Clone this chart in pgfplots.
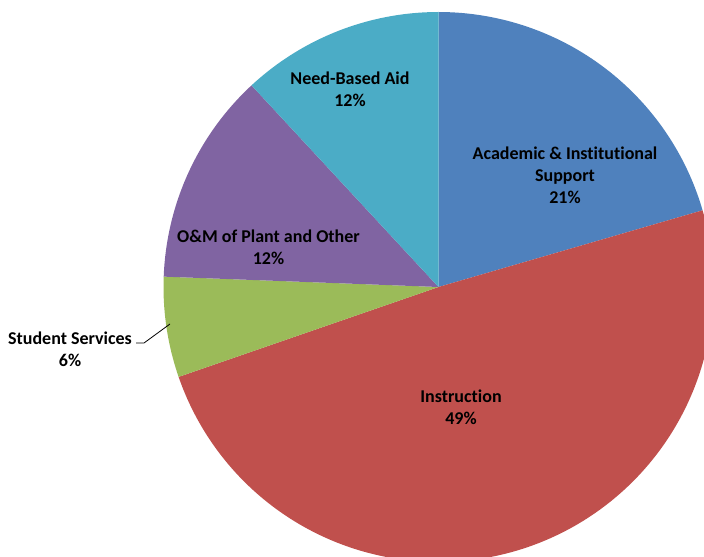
\documentclass[border=0pt]{standalone}
\usepackage{pgfplots}
\pgfplotsset{compat=1.18}
\usepackage{fontspec}
\setmainfont[Ligatures=NoCommon]{Carlito}
\definecolor{cacad}{HTML}{4F81BD}
\definecolor{cinstr}{HTML}{C0504D}
\definecolor{cstud}{HTML}{9BBB59}
\definecolor{com}{HTML}{8064A2}
\definecolor{cneed}{HTML}{4BACC6}
\tikzset{lbl/.style={font=\fontsize{13.5}{16.5}\selectfont\bfseries, align=center, inner sep=0pt, text=black}}
% shares (%) : Academic 20.5, Instruction 49.2, Student Services 5.9, O&M 12.5, Need-Based Aid 11.9
% slices start at 90 deg and run clockwise, 3.6 deg per percent
\begin{document}
\begin{tikzpicture}
\begin{axis}[
  at={(0,0)}, anchor=south west,
  width=528pt, height=417.75pt, scale only axis,
  xmin=0, xmax=704, ymin=0, ymax=557,
  hide axis, clip=true,
]
% Academic & Institutional Support 20.5%
\addplot[fill=cacad, draw=none, domain=16.2:90, samples=90, variable=\t]
  ({438.5+275*cos(t)},{270+275*sin(t)}) -- (axis cs:438.5,270) -- cycle;
% Instruction 49.2%
\addplot[fill=cinstr, draw=none, domain=-160.92:16.2, samples=180, variable=\t]
  ({438.5+275*cos(t)},{270+275*sin(t)}) -- (axis cs:438.5,270) -- cycle;
% Student Services 5.9%
\addplot[fill=cstud, draw=none, domain=-182.16:-160.92, samples=30, variable=\t]
  ({438.5+275*cos(t)},{270+275*sin(t)}) -- (axis cs:438.5,270) -- cycle;
% O&M of Plant and Other 12.5%
\addplot[fill=com, draw=none, domain=-227.16:-182.16, samples=50, variable=\t]
  ({438.5+275*cos(t)},{270+275*sin(t)}) -- (axis cs:438.5,270) -- cycle;
% Need-Based Aid 11.9%
\addplot[fill=cneed, draw=none, domain=-270:-227.16, samples=50, variable=\t]
  ({438.5+275*cos(t)},{270+275*sin(t)}) -- (axis cs:438.5,270) -- cycle;

\node[lbl] at (axis cs:565,382) {Academic \& Institutional\\Support\\21\%};
\node[lbl] at (axis cs:461,150) {Instruction\\49\%};
\node[lbl] at (axis cs:70,208) {Student Services\\6\%};
\node[lbl] at (axis cs:268.5,310) {O\&M of Plant and Other\\12\%};
\node[lbl] at (axis cs:350,468) {Need-Based Aid\\12\%};
\draw[black, line width=0.6pt] (axis cs:136,214) -- (axis cs:144,214) -- (axis cs:170,233);
\end{axis}
\pgfresetboundingbox
\path[use as bounding box] (0,0) rectangle (528pt,417.75pt);
\end{tikzpicture}
\end{document}
